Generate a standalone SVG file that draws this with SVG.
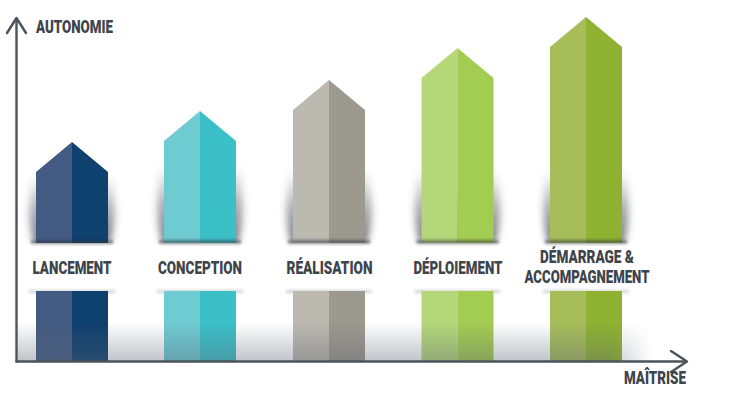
<svg xmlns="http://www.w3.org/2000/svg" width="734" height="403" viewBox="0 0 734 403">
<defs>
<style>
.lbl{font-family:Roboto,"Liberation Sans",sans-serif;font-weight:900;font-size:18.5px;fill:#3e444b;text-anchor:middle}
.axis{stroke:#4b535b;stroke-width:2.4;fill:none;stroke-linecap:round;stroke-linejoin:round}
.band{fill:#ffffff}
.side{fill:url(#sideG);filter:url(#blur3)}
.bshadow{fill:#2f333b;opacity:.55;filter:url(#blur2)}
.tshadow{fill:#6a6f78;opacity:.3;filter:url(#blur2)}
</style>
<linearGradient id="sideG" x1="0" y1="0" x2="0" y2="1">
<stop offset="0" stop-color="#3a3f4a" stop-opacity="0"/>
<stop offset="0.5" stop-color="#3a3f4a" stop-opacity="0.4"/>
<stop offset="1" stop-color="#3a3f4a" stop-opacity="0.7"/>
</linearGradient>
<linearGradient id="floorG" x1="0" y1="0" x2="0" y2="1">
<stop offset="0" stop-color="#5a6070" stop-opacity="0"/>
<stop offset="1" stop-color="#5a6070" stop-opacity="0.38"/>
</linearGradient>
<linearGradient id="fadeX" x1="0" y1="0" x2="1" y2="0">
<stop offset="0" stop-color="#fff"/>
<stop offset="0.93" stop-color="#fff"/>
<stop offset="1" stop-color="#000"/>
</linearGradient>
<mask id="floorM"><rect x="17" y="320" width="635" height="42" fill="url(#fadeX)"/></mask>
<filter id="blur3" x="-30%" y="-30%" width="160%" height="160%"><feGaussianBlur stdDeviation="3.5"/></filter>
<filter id="blur2" x="-20%" y="-100%" width="140%" height="300%"><feGaussianBlur stdDeviation="1.8"/></filter>
</defs>
<rect width="734" height="403" fill="#ffffff"/>

<g id="lancement">
<path class="side" d="M33,175 Q25,215 34,243 L110,243 Q119,215 111,175 Z"/>
<polygon fill="#435b82" points="36,172 72,142 72,243 36,243"/>
<polygon fill="#0f416f" points="72,142 108,172 108,243 72,243"/>
<rect class="band" x="22" y="243" width="100" height="48"/>
<rect class="bshadow" x="31" y="240" width="82" height="4"/>
<rect class="tshadow" x="29" y="290" width="86" height="3"/>
<rect fill="#435b82" x="36" y="291" width="36" height="70"/>
<rect fill="#0f416f" x="72" y="291" width="36" height="70"/>
<text class="lbl" x="72" y="274" textLength="79" lengthAdjust="spacingAndGlyphs">LANCEMENT</text>
</g>

<g id="conception">
<path class="side" d="M161,165 Q153,212 162,243 L238,243 Q247,212 239,165 Z"/>
<polygon fill="#6fcbd2" points="164,141 200,111 200,243 164,243"/>
<polygon fill="#3cc0c8" points="200,111 236,141 236,243 200,243"/>
<rect class="band" x="150" y="243" width="100" height="48"/>
<rect class="bshadow" x="159" y="240" width="82" height="4"/>
<rect class="tshadow" x="157" y="290" width="86" height="3"/>
<rect fill="#6fcbd2" x="164" y="291" width="36" height="70"/>
<rect fill="#3cc0c8" x="200" y="291" width="36" height="70"/>
<text class="lbl" x="200" y="274" textLength="84" lengthAdjust="spacingAndGlyphs">CONCEPTION</text>
</g>

<g id="realisation">
<path class="side" d="M290,170 Q282,215 291,243 L367,243 Q376,215 368,170 Z"/>
<polygon fill="#bcb9b1" points="293,110 329,80 329,243 293,243"/>
<polygon fill="#9c998e" points="329,80 365,110 365,243 329,243"/>
<rect class="band" x="279" y="243" width="100" height="48"/>
<rect class="bshadow" x="288" y="240" width="82" height="4"/>
<rect class="tshadow" x="286" y="290" width="86" height="3"/>
<rect fill="#bcb9b1" x="293" y="291" width="36" height="70"/>
<rect fill="#9c998e" x="329" y="291" width="36" height="70"/>
<text class="lbl" x="329.5" y="274" textLength="86" lengthAdjust="spacingAndGlyphs">RÉALISATION</text>
</g>

<g id="deploiement">
<path class="side" d="M418.5,170 Q410.5,215 419.5,243 L495.5,243 Q504.5,215 496.5,170 Z"/>
<polygon fill="#b5d77a" points="421.5,78 457.5,48 457.5,243 421.5,243"/>
<polygon fill="#a3cc52" points="457.5,48 493.5,78 493.5,243 457.5,243"/>
<rect class="band" x="407.5" y="243" width="100" height="48"/>
<rect class="bshadow" x="416.5" y="240" width="82" height="4"/>
<rect class="tshadow" x="414.5" y="290" width="86" height="3"/>
<rect fill="#b5d77a" x="421.5" y="291" width="36" height="70"/>
<rect fill="#a3cc52" x="457.5" y="291" width="36" height="70"/>
<text class="lbl" x="458" y="274" textLength="89" lengthAdjust="spacingAndGlyphs">DÉPLOIEMENT</text>
</g>

<g id="demarrage">
<path class="side" d="M547,170 Q539,215 548,243 L624,243 Q633,215 625,170 Z"/>
<polygon fill="#a6bd5a" points="550,47 586,17 586,243 550,243"/>
<polygon fill="#8fb233" points="586,17 622,47 622,243 586,243"/>
<rect class="band" x="520" y="243" width="132" height="48"/>
<rect class="bshadow" x="545" y="240" width="82" height="4"/>
<rect class="tshadow" x="543" y="290" width="86" height="3"/>
<rect fill="#a6bd5a" x="550" y="291" width="36" height="70"/>
<rect fill="#8fb233" x="586" y="291" width="36" height="70"/>
<text class="lbl" x="587" y="263" textLength="94" lengthAdjust="spacingAndGlyphs">DÉMARRAGE &amp;</text>
<text class="lbl" x="587" y="283" textLength="125" lengthAdjust="spacingAndGlyphs">ACCOMPAGNEMENT</text>
</g>

<rect x="17" y="322" width="635" height="40" fill="url(#floorG)" mask="url(#floorM)"/>

<g id="connectors">
<path class="axis" d="M16.5,361.5 V19"/>
<path class="axis" d="M7,33 L16.5,18 L26,33"/>
<path class="axis" d="M16.5,361.5 H686"/>
<path class="axis" d="M671,351 L687,361.5 L671,372"/>
<text class="lbl" x="36" y="32.5" style="text-anchor:start" textLength="77" lengthAdjust="spacingAndGlyphs">AUTONOMIE</text>
<text class="lbl" x="686" y="383.5" style="text-anchor:end" textLength="62" lengthAdjust="spacingAndGlyphs">MAÎTRISE</text>
</g>
</svg>
